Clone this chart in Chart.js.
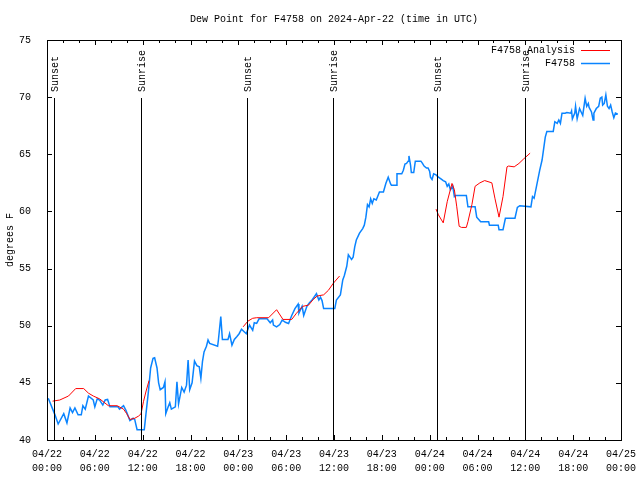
<!DOCTYPE html>
<html>
<head>
<meta charset="utf-8">
<script src="https://cdn.jsdelivr.net/npm/chart.js@4"></script>
<style>
  html, body { margin: 0; padding: 0; background: #fff; }
  #wrap { width: 640px; height: 480px; }
</style>
</head>
<body>
<div id="wrap"><canvas id="myChart" width="640" height="480"></canvas></div>
<script>
// hours since 2024-04-22 00:00 UTC
const obsTime = [0.16, 1.0, 1.4, 2.1, 2.5, 2.9, 3.2, 3.5, 3.9, 4.3, 4.5, 4.8, 5.2, 5.8, 6.0, 6.3, 6.6, 7.0, 7.3, 7.6, 7.9, 8.9, 9.1, 9.6, 9.9,
    10.4, 10.8, 11.0, 11.3, 12.2, 12.4, 12.7, 13.0, 13.3, 13.5, 13.8, 14.0, 14.2, 14.6, 14.8, 14.9, 15.2, 15.4, 15.6, 16.1, 16.3, 16.5, 16.9, 17.2, 17.5,
    17.7, 17.9, 18.2, 18.5, 18.8, 19.1, 19.3, 19.5, 19.7, 20.0, 20.2, 20.4, 21.4, 21.5, 21.8, 22.0, 22.7, 22.9, 23.2, 23.5, 23.8, 24.1, 24.4, 24.7,
    25.0, 25.4, 25.8, 26.0, 26.3, 26.6, 27.6, 28.0, 28.3, 28.4, 28.8, 29.2, 29.5, 29.9, 30.3, 30.7, 31.1, 31.5, 31.6, 32.0, 32.2, 32.6, 32.9, 33.3,
    33.8, 34.1, 34.3, 34.5, 34.7, 36.1, 36.3, 36.8, 37.1, 37.3, 37.6, 37.8, 38.0, 38.2, 38.4, 38.6, 38.8, 39.2, 39.6, 39.8, 40.0, 40.2, 40.4, 40.6,
    40.8, 41.0, 41.3, 41.7, 42.2, 42.5, 42.8, 43.1, 43.2, 43.8, 43.9, 44.5, 44.7, 44.9, 45.1, 45.3, 45.4, 45.6, 45.7, 46.0, 46.2, 46.9, 47.1, 47.3,
    47.6, 47.8, 48.0, 48.1, 48.3, 48.5, 48.8, 49.1, 49.5, 49.7, 50.0, 50.2, 50.4, 50.6, 50.9, 51.1, 51.3, 52.6, 52.8, 53.7, 53.9, 54.4, 55.4, 55.5,
    56.6, 56.7, 57.2, 57.5, 58.7, 59.0, 59.3, 60.7, 60.9, 61.1, 61.4, 61.8, 62.1, 62.3, 62.5, 62.7, 63.5, 63.7, 64.0, 64.2, 64.4, 64.6, 65.0, 65.2,
    65.7, 65.8, 65.9, 66.2, 66.3, 66.5, 66.8, 67.0, 67.2, 67.5, 67.7, 67.9, 68.0, 68.3, 68.5, 68.6, 68.9, 69.2, 69.4, 69.6, 69.7, 69.9, 70.1, 70.3,
    70.5, 70.7, 70.9, 71.1, 71.3, 71.6];
const obsDew = [43.65, 42.2, 41.4, 42.3, 41.5, 42.8, 42.4, 42.8, 42.2, 42.2, 43.0, 42.7, 43.85, 43.5, 42.9, 43.6, 43.5, 43.06, 43.5, 43.55, 42.9, 42.9, 42.7, 43.0, 42.6,
    41.7, 41.9, 41.8, 40.9, 40.9, 42.2, 44.1, 46.3, 47.15, 47.2, 46.3, 45.0, 44.4, 44.6, 45.1, 42.3, 42.9, 43.26, 42.7, 42.9, 45.1, 43.15, 44.6, 44.2, 44.8,
    47.0, 44.4, 45.0, 46.9, 46.5, 46.4, 45.4, 46.85, 47.7, 48.2, 48.75, 48.45, 48.2, 48.75, 50.8, 48.8, 48.8, 49.3, 48.3, 48.8, 49.04, 49.3, 49.7, 49.5,
    49.3, 50.06, 49.6, 50.26, 50.2, 50.6, 50.6, 50.26, 50.5, 50.06, 49.9, 50.1, 50.5, 50.3, 50.2, 50.9, 51.5, 51.9, 51.1, 51.7, 50.9, 51.7, 52.0, 52.3,
    52.8, 52.25, 52.5, 52.2, 51.5, 51.5, 52.25, 52.7, 54.0, 54.4, 55.2, 56.2, 56.0, 55.8, 56.0, 56.9, 57.5, 58.1, 58.5, 58.8, 59.5, 60.6, 60.4, 61.1,
    60.7, 61.1, 61.0, 61.7, 61.7, 62.45, 63.0, 62.4, 62.3, 62.3, 63.3, 63.3, 63.6, 64.15, 64.2, 64.4, 64.85, 64.06, 63.4, 63.4, 64.4, 64.4, 64.2, 63.97,
    63.8, 63.8, 63.5, 63.0, 62.8, 63.3, 63.2, 63.0, 62.8, 62.7, 62.6, 62.2, 62.4, 61.9, 62.2, 61.3, 61.4, 61.4, 60.4, 60.4, 59.5, 59.1, 59.1, 58.8,
    58.8, 58.4, 58.4, 59.4, 59.4, 60.35, 60.5, 60.4, 61.3, 61.15, 62.2, 63.6, 64.5, 65.5, 66.5, 67.0, 67.0, 67.85, 67.7, 68.0, 67.7, 68.6, 68.6, 68.65,
    68.6, 68.8, 68.1, 68.6, 69.2, 68.1, 69.0, 68.7, 68.4, 69.9, 69.2, 69.45, 69.1, 68.7, 68.0, 68.6, 69.0, 69.2, 69.9, 70.0, 69.3, 69.45, 70.2, 69.2,
    69.0, 69.3, 68.7, 68.2, 68.6, 68.5];

// analysis series, null = gap
const anaTime = [0.7, 1.6, 2.7, 3.6, 4.6, 5.2, 5.8, 6.6, 7.7, 8.8, 9.6, 10.0, 10.4, 11.0, 11.5, 11.8, 12.1, 12.4, 12.8, 18.0,
    24.6, 25.2, 25.8, 26.3, 27.8, 28.8, 29.6, 30.7, 31.3, 32.1, 32.8, 33.4, 33.9, 34.7, 35.3, 35.9, 36.7, 42.0,
    48.8, 49.1, 49.7, 50.2, 50.8, 51.1, 51.4, 51.7, 52.0, 52.6, 52.8, 53.3, 53.7, 54.3, 54.9, 55.8, 56.2, 56.7, 57.2, 57.7, 57.9, 58.6, 59.2, 59.8, 60.6];
const anaDew = [43.4, 43.5, 43.85, 44.5, 44.5, 44.1, 43.85, 43.6, 43.0, 43.0, 42.7, 42.3, 41.8, 41.9, 42.1, 42.3, 43.35, 44.2, 45.2, null,
    49.9, 50.4, 50.65, 50.7, 50.7, 51.4, 50.55, 50.55, 51.1, 51.7, 51.8, 52.3, 52.6, 52.7, 53.1, 53.7, 54.35, null,
    60.2, 59.7, 59.0, 60.85, 62.45, 61.9, 60.4, 58.7, 58.6, 58.6, 59.1, 60.6, 62.2, 62.5, 62.7, 62.5, 61.1, 59.5, 61.3, 63.9, 63.97, 63.9, 64.2, 64.6, 65.1];

const sunTime = [0.88, 11.8, 25.05, 35.9, 48.96, 59.9];
const sunLabel = ["Sunset", "Sunrise", "Sunset", "Sunrise", "Sunset", "Sunrise"];

const xTickDays = ["04/22", "04/23", "04/24", "04/25"];

const titleText = "Dew Point for F4758 on 2024-Apr-22 (time in UTC)";
const FONT = "'Liberation Mono', 'DejaVu Sans Mono', monospace";

function toPoints(xs, ys) {
    return xs.map((x, i) => ({ x: x, y: ys[i] }));
}

const framePlugin = {
    id: 'frame',
    afterDatasetsDraw(chart) {
        const ctx = chart.ctx;
        const a = chart.chartArea;
        const xs = chart.scales.x;
        const ys = chart.scales.y;
        ctx.save();
        ctx.strokeStyle = '#000';
        ctx.lineWidth = 1;
        ctx.beginPath();
        // x ticks: major every 6h, minor every 2h
        for (let h = 0; h <= 72; h += 2) {
            const px = Math.round(xs.getPixelForValue(h)) + 0.5;
            const len = h % 6 === 0 ? 5 : 3;
            ctx.moveTo(px, a.bottom); ctx.lineTo(px, a.bottom - len);
            ctx.moveTo(px, a.top); ctx.lineTo(px, a.top + len);
        }
        for (let v = 40; v <= 75; v += 5) {
            const py = Math.round(ys.getPixelForValue(v)) + 0.5;
            ctx.moveTo(a.left, py); ctx.lineTo(a.left + 5, py);
            ctx.moveTo(a.right, py); ctx.lineTo(a.right - 5, py);
        }
        ctx.stroke();
        ctx.strokeRect(Math.round(a.left) + 0.5, Math.round(a.top) + 0.5, Math.round(a.right - a.left), Math.round(a.bottom - a.top));

        ctx.font = '10px ' + FONT;
        ctx.fillStyle = '#000';

        // title centred on the plot area
        ctx.textAlign = 'center';
        ctx.textBaseline = 'middle';
        ctx.fillText(titleText, (a.left + a.right) / 2, 19);

        // sunrise / sunset markers
        sunTime.forEach((t, i) => {
            const px = Math.round(xs.getPixelForValue(t)) + 0.5;
            ctx.beginPath();
            ctx.moveTo(px, 98);
            ctx.lineTo(px, a.bottom);
            ctx.stroke();
            ctx.save();
            ctx.translate(px + 1, 92);
            ctx.rotate(-Math.PI / 2);
            ctx.textAlign = 'left';
            ctx.textBaseline = 'middle';
            ctx.fillText(sunLabel[i], 0, 0);
            ctx.restore();
        });

        // legend, gnuplot style: text then sample line
        chart.data.datasets.forEach((ds, i) => {
            const y = 50 + i * 13;
            ctx.textAlign = 'right';
            ctx.textBaseline = 'middle';
            ctx.fillStyle = '#000';
            ctx.fillText(ds.label, 575, y);
            ctx.strokeStyle = ds.borderColor;
            ctx.lineWidth = ds.borderWidth;
            ctx.beginPath();
            ctx.moveTo(581, y + 0.5);
            ctx.lineTo(610, y + 0.5);
            ctx.stroke();
        });
        ctx.restore();
    }
};

const Mychart = document.getElementById("myChart");

new Chart(Mychart, {
    type: "line",
    data: {
        datasets: [
            {
                label: "F4758 Analysis",
                data: toPoints(anaTime, anaDew),
                borderColor: "#ff0000",
                borderWidth: 1,
                pointRadius: 0,
                spanGaps: false,
                tension: 0,
            },
            {
                label: "F4758",
                data: toPoints(obsTime, obsDew),
                borderColor: "#0a84ff",
                borderWidth: 1.5,
                pointRadius: 0,
                tension: 0,
            },
        ],
    },
    options: {
        responsive: false,
        animation: false,
        layout: { padding: { left: 0, right: 19, top: 40, bottom: 0 } },
        plugins: {
            legend: { display: false },
            tooltip: { enabled: false },
            title: { display: false },
        },
        scales: {
            x: {
                type: "linear",
                min: 0,
                max: 72,
                grid: { display: false },
                border: { display: false },
                afterFit: (s) => {
                    s.height = 40;
                    s.paddingLeft = 0;
                    s.paddingRight = 0;
                },
                ticks: {
                    stepSize: 6,
                    maxRotation: 0,
                    autoSkip: false,
                    padding: -1,
                    color: "#000",
                    font: { family: FONT, size: 10, lineHeight: 1.4 },
                    callback: (v) => {
                        const d = Math.floor(v / 24);
                        const hh = String(v % 24).padStart(2, "0");
                        return [xTickDays[d], hh + ":00"];
                    },
                },
            },
            y: {
                min: 40,
                max: 75,
                grid: { display: false },
                border: { display: false },
                afterFit: (s) => {
                    s.width = 47;
                    s.paddingTop = 0;
                    s.paddingBottom = 0;
                },
                title: {
                    display: true,
                    text: "degrees F",
                    color: "#000",
                    font: { family: FONT, size: 10 },
                    padding: { top: 4, bottom: 0 },
                },
                ticks: {
                    stepSize: 5,
                    padding: 8,
                    color: "#000",
                    font: { family: FONT, size: 10 },
                },
            },
        },
    },
    plugins: [framePlugin],
});
</script>
</body>
</html>
